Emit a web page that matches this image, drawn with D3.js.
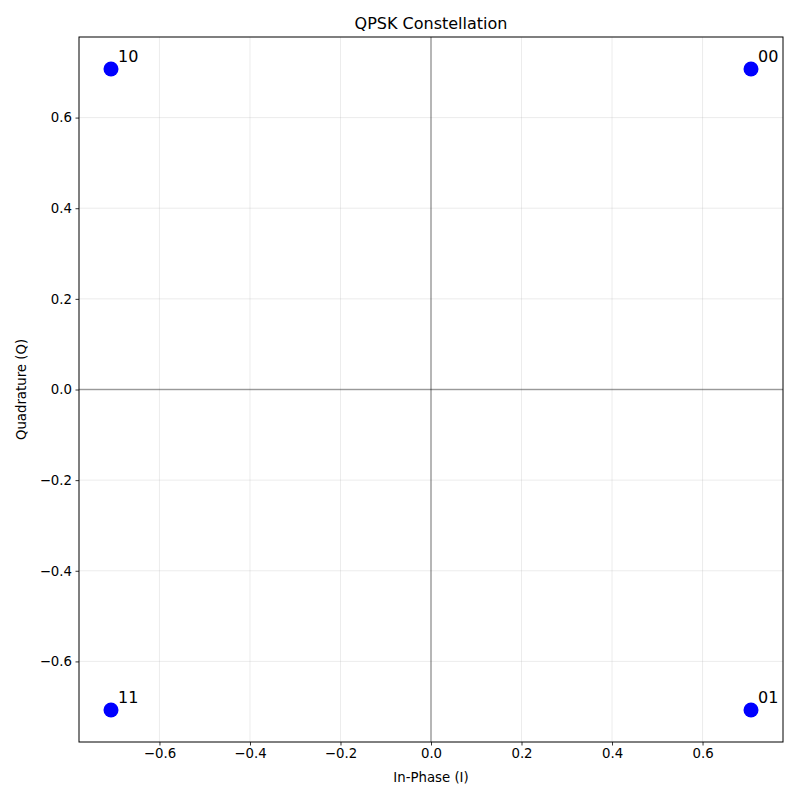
<!DOCTYPE html>
<html>
<head>
<meta charset="utf-8">
<script src="https://cdn.jsdelivr.net/npm/d3@7"></script>
<style>
  body { margin: 0; background: #fff; }
  svg { font-family: "DejaVu Sans", sans-serif; }
</style>
</head>
<body>
<svg id="chart" width="800" height="800"></svg>
<script>
// QPSK symbols
const iValues = [0.7071, -0.7071, -0.7071, 0.7071];
const qValues = [0.7071, 0.7071, -0.7071, -0.7071];
const bitLabels = ["00", "10", "11", "01"];
const xTicks = [-0.6, -0.4, -0.2, 0.0, 0.2, 0.4, 0.6];
const yTicks = [-0.6, -0.4, -0.2, 0.0, 0.2, 0.4, 0.6];

const svg = d3.select("#chart");
const padL = 79, padR = 783, padT = 37, padB = 742;

const x = d3.scaleLinear().domain([-0.7778, 0.7778]).range([padL, padR]);
const y = d3.scaleLinear().domain([-0.7778, 0.7778]).range([padB, padT]);

const fmt = d => d3.format(".1f")(d).replace("-", "\u2212");

// grid
svg.append("g").selectAll("line").data(xTicks).join("line")
  .attr("x1", d => x(d)).attr("x2", d => x(d))
  .attr("y1", padT).attr("y2", padB)
  .attr("stroke", "#b0b0b0").attr("stroke-opacity", 0.3).attr("stroke-width", 0.8);
svg.append("g").selectAll("line").data(yTicks).join("line")
  .attr("y1", d => y(d)).attr("y2", d => y(d))
  .attr("x1", padL).attr("x2", padR)
  .attr("stroke", "#b0b0b0").attr("stroke-opacity", 0.3).attr("stroke-width", 0.8);

// zero lines
svg.append("line")
  .attr("x1", padL).attr("x2", padR).attr("y1", y(0)).attr("y2", y(0))
  .attr("stroke", "#000").attr("stroke-opacity", 0.35).attr("stroke-width", 1.5);
svg.append("line")
  .attr("x1", x(0)).attr("x2", x(0)).attr("y1", padT).attr("y2", padB)
  .attr("stroke", "#000").attr("stroke-opacity", 0.35).attr("stroke-width", 1.5);

// axes
const xAxis = svg.append("g")
  .attr("transform", `translate(0,${padB})`)
  .call(d3.axisBottom(x).tickValues(xTicks).tickFormat(fmt).tickSizeOuter(0).tickSize(3.5).tickPadding(3.5));
const yAxis = svg.append("g")
  .attr("transform", `translate(${padL},0)`)
  .call(d3.axisLeft(y).tickValues(yTicks).tickFormat(fmt).tickSizeOuter(0).tickSize(3.5).tickPadding(3.5));
[xAxis, yAxis].forEach(a => {
  a.select(".domain").remove();
  a.selectAll("text").attr("font-size", "13.3px").attr("fill", "#000").attr("font-family", "DejaVu Sans");
  a.selectAll("line").attr("stroke", "#000").attr("stroke-width", 0.8);
});

// frame
svg.append("rect")
  .attr("x", padL).attr("y", padT).attr("width", padR - padL).attr("height", padB - padT)
  .attr("fill", "none").attr("stroke", "#000").attr("stroke-width", 1);

// points
const pts = iValues.map((v, i) => ({ i: v, q: qValues[i], label: bitLabels[i] }));
svg.append("g").selectAll("circle").data(pts).join("circle")
  .attr("cx", d => x(d.i)).attr("cy", d => y(d.q)).attr("r", 7.5)
  .attr("fill", "#0000ff");
svg.append("g").selectAll("text").data(pts).join("text")
  .attr("x", d => x(d.i) + 7).attr("y", d => y(d.q) - 7)
  .attr("font-size", "16px").attr("fill", "#000")
  .text(d => d.label);

// titles
svg.append("text").attr("x", (padL + padR) / 2).attr("y", 29)
  .attr("text-anchor", "middle").attr("font-size", "16px").text("QPSK Constellation");
svg.append("text").attr("x", (padL + padR) / 2).attr("y", 782)
  .attr("text-anchor", "middle").attr("font-size", "13.3px").text("In-Phase (I)");
svg.append("text").attr("transform", `translate(26,${(padT + padB) / 2}) rotate(-90)`)
  .attr("text-anchor", "middle").attr("font-size", "13.3px").text("Quadrature (Q)");
</script>
</body>
</html>
